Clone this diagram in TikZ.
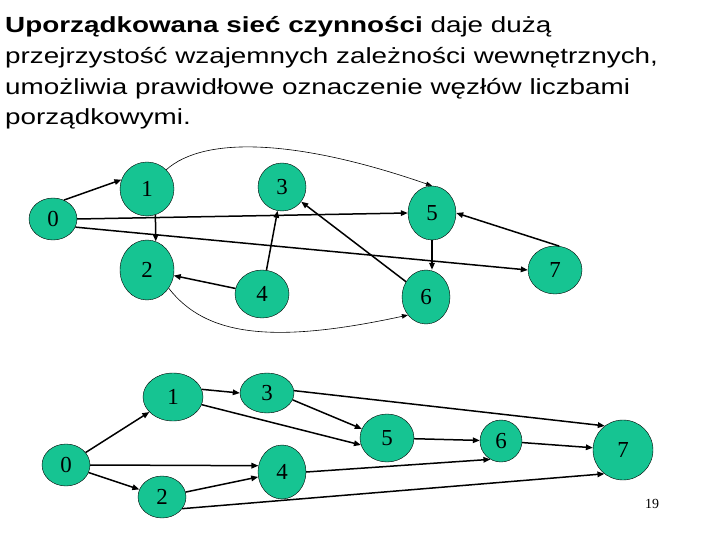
\documentclass[tikz,border=0pt]{standalone}
\usepackage{fontspec}
\setmainfont{Liberation Serif}
\newfontfamily\titlefont[FakeStretch=1.27]{Liberation Sans}
\usepackage{tikz}
\usetikzlibrary{shapes.geometric,arrows.meta}
\definecolor{netgreen}{RGB}{22,196,146}

\begin{document}
\begin{tikzpicture}[
  x=1bp, y=-1bp,
  vertex/.style={ellipse, draw, thin, fill=netgreen, inner sep=0pt, font=\fontsize{23}{23}\selectfont},
  arr/.style={-{Triangle[length=7bp,width=5.5bp]}, line width=1.5bp},
  thinarr/.style={-{Triangle[length=6bp,width=4.5bp]}, line width=0.6bp}
]
  \useasboundingbox (0,0) rectangle (720,540);
  \node[anchor=base west, align=left, inner sep=0pt, font=\titlefont\fontsize{22}{31}\selectfont] (title) at (5,125)
    {\textbf{Uporządkowana sieć czynności} daje dużą\\przejrzystość wzajemnych zależności wewnętrznych,\\umożliwia prawidłowe oznaczenie węzłów liczbami\\porządkowymi.};

  % upper network
  \node[vertex, minimum width=48bp, minimum height=42bp] (t0) at (53,219) {0};
  \node[vertex, minimum width=54bp, minimum height=54bp] (t1) at (147,189) {1};
  \node[vertex, minimum width=54bp, minimum height=60bp] (t2) at (147,270) {2};
  \node[vertex, minimum width=48bp, minimum height=48bp] (t3) at (282,187) {3};
  \node[vertex, minimum width=54bp, minimum height=48bp] (t4) at (262,294) {4};
  \node[vertex, minimum width=48bp, minimum height=54bp] (t5) at (432,213) {5};
  \node[vertex, minimum width=48bp, minimum height=54bp] (t6) at (426,297) {6};
  \node[vertex, minimum width=54bp, minimum height=48bp] (t7) at (555,270) {7};

  \draw[arr] (t0.60) -- (t1.160);
  \draw[arr] (t1.-72) -- (t2.73);
  \draw[arr] (t0.east) -- (t5.west);
  \draw[arr] (t0.-20) -- (t7.west);
  \draw[arr] (t4) -- (t3);
  \draw[arr] (t4) -- (t2);
  \draw[arr] (t6) -- (t3);
  \draw[arr] (t5.south) -- (t5.south |- t6.north);
  \draw[arr] (t7.80) -- (t5.east);
  \draw[thinarr] (t1.45) .. controls (205,135) and (300,140) .. (t5.north);
  \draw[thinarr] (t2.-40) .. controls (205,335) and (270,345) .. (t6.225);

  % lower network
  \node[vertex, minimum width=48bp, minimum height=42bp] (b0) at (66,465) {0};
  \node[vertex, minimum width=60bp, minimum height=48bp] (b1) at (173,397) {1};
  \node[vertex, minimum width=48bp, minimum height=42bp] (b2) at (162,497) {2};
  \node[vertex, minimum width=54bp, minimum height=40bp] (b3) at (267,393) {3};
  \node[vertex, minimum width=48bp, minimum height=54bp] (b4) at (282,472) {4};
  \node[vertex, minimum width=54bp, minimum height=48bp] (b5) at (387,438) {5};
  \node[vertex, minimum width=42bp, minimum height=42bp] (b6) at (501,441) {6};
  \node[vertex, minimum width=60bp, minimum height=60bp] (b7) at (623,450) {7};

  \draw[arr] (b0) -- (b1);
  \draw[arr] (b0.east) -- (b4.165);
  \draw[arr] (b0) -- (b2);
  \draw[arr] (b1.15) -- (b3.west);
  \draw[arr] (b1.-15) -- (b5.195);
  \draw[arr] (b3.-15) -- (b5.160);
  \draw[arr] (b3.5) -- (b7.127);
  \draw[arr] (b2) -- (b4);
  \draw[arr] (b2.-30) -- (b7.232);
  \draw[arr] (b4.east) -- (b6.240);
  \draw[arr] (b5) -- (b6);
  \draw[arr] (b6) -- (b7);

  \node[font=\fontsize{14}{14}\selectfont] (page) at (652,504) {19};
\end{tikzpicture}
\end{document}
